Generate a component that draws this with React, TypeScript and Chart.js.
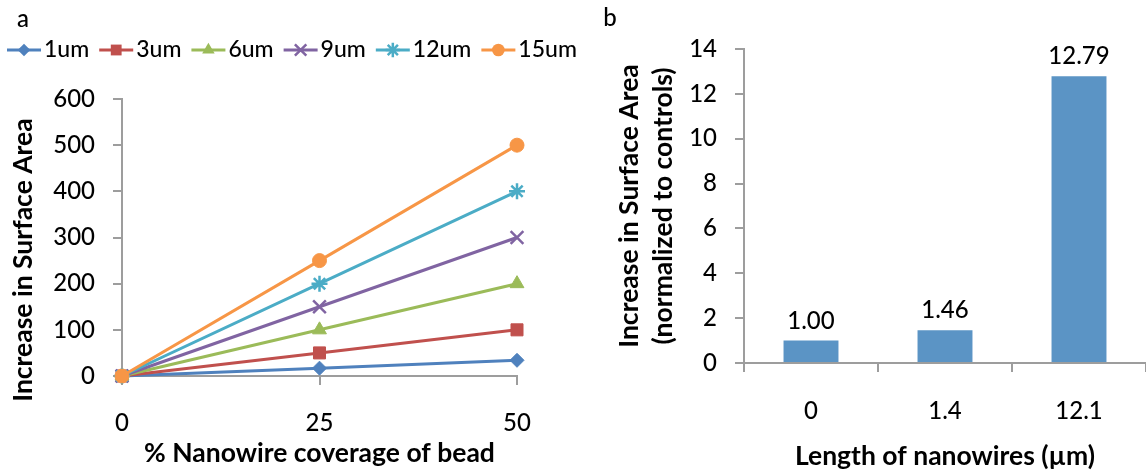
import React, { useEffect, useRef } from 'react';
import { Chart, registerables } from 'chart.js';

Chart.register(...registerables);

// ---------- data ----------
const coverageLabels = ['0', '25', '50'];
const series1um = [0, 17, 34];
const series3um = [0, 50, 100];
const series6um = [0, 100, 200];
const series9um = [0, 150, 300];
const series12um = [0, 200, 400];
const series15um = [0, 250, 500];
const seriesNames = ['1um', '3um', '6um', '9um', '12um', '15um'];
const seriesValues = [series1um, series3um, series6um, series9um, series12um, series15um];
const seriesColors = ['#4F81BD', '#C0504D', '#9BBB59', '#8064A2', '#4BACC6', '#F79646'];
const seriesMarkers = ['rectRot', 'rect', 'triangle', 'crossRot', 'star', 'circle'];
const seriesMarkerRadius = [7, 8.5, 8, 9, 8, 7];

const yMaxA = 600;
const yStepA = 100;

const nanowireLengths = ['0', '1.4', '12.1'];
const normalizedIncrease = [1.0, 1.46, 12.79];
const yMaxB = 14;
const yStepB = 2;

const xTitleA = '% Nanowire coverage of bead';
const yTitleA = 'Increase in Surface Area';
const xTitleB = 'Length of nanowires (µm)';
const yTitleB = ['Increase in Surface Area', '(normalized to controls)'];

// ---------- style ----------
const FONT = 'Lato, "Open Sans", "DejaVu Sans", sans-serif';
const AXIS_GRAY = '#9D9D9D';
const BAR_BLUE = '#5B94C5';
const TICK_SIZE = 24;
const TICK_WEIGHT = 500;
const LEGEND_SIZE = 23;
const TITLE_SIZE = 26.5;
const SPLIT_X = 600;

function drawMarker(ctx: CanvasRenderingContext2D, style: string, x: number, y: number, r: number, color: string) {
  ctx.save();
  ctx.fillStyle = color;
  ctx.strokeStyle = color;
  ctx.lineWidth = 2.5;
  ctx.beginPath();
  if (style === 'circle') {
    ctx.arc(x, y, r, 0, Math.PI * 2);
    ctx.fill();
  } else if (style === 'rect') {
    const s = r * Math.SQRT1_2;
    ctx.rect(x - s, y - s, 2 * s, 2 * s);
    ctx.fill();
  } else if (style === 'rectRot') {
    ctx.moveTo(x, y - r);
    ctx.lineTo(x + r, y);
    ctx.lineTo(x, y + r);
    ctx.lineTo(x - r, y);
    ctx.closePath();
    ctx.fill();
  } else if (style === 'triangle') {
    let a = 0;
    ctx.moveTo(x + Math.sin(a) * r, y - Math.cos(a) * r);
    a += (2 * Math.PI) / 3;
    ctx.lineTo(x + Math.sin(a) * r, y - Math.cos(a) * r);
    a += (2 * Math.PI) / 3;
    ctx.lineTo(x + Math.sin(a) * r, y - Math.cos(a) * r);
    ctx.closePath();
    ctx.fill();
  } else if (style === 'crossRot' || style === 'star') {
    const d = r * Math.SQRT1_2;
    ctx.moveTo(x - d, y - d);
    ctx.lineTo(x + d, y + d);
    ctx.moveTo(x - d, y + d);
    ctx.lineTo(x + d, y - d);
    if (style === 'star') {
      ctx.moveTo(x, y - r);
      ctx.lineTo(x, y + r);
      ctx.moveTo(x - r, y);
      ctx.lineTo(x + r, y);
    }
    ctx.stroke();
  }
  ctx.restore();
}

const panelLabelPlugin = (text: string, x: number, y: number) => ({
  id: 'panelLabel',
  afterDraw(chart: any) {
    const ctx = chart.ctx as CanvasRenderingContext2D;
    ctx.save();
    ctx.font = `${TICK_WEIGHT} 24px ${FONT}`;
    ctx.fillStyle = '#000';
    ctx.textAlign = 'center';
    ctx.textBaseline = 'middle';
    ctx.fillText(text, x, y);
    ctx.restore();
  },
});

const lineLegendPlugin = {
  id: 'lineLegend',
  afterDraw(chart: any) {
    const ctx = chart.ctx as CanvasRenderingContext2D;
    ctx.save();
    ctx.font = `${TICK_WEIGHT} ${LEGEND_SIZE}px ${FONT}`;
    let x = 7;
    const y = 50;
    seriesNames.forEach((name, i) => {
      ctx.strokeStyle = seriesColors[i];
      ctx.lineWidth = 3;
      ctx.beginPath();
      ctx.moveTo(x, y);
      ctx.lineTo(x + 34, y);
      ctx.stroke();
      drawMarker(ctx, seriesMarkers[i], x + 17, y, seriesMarkerRadius[i] * 0.9, seriesColors[i]);
      ctx.fillStyle = '#000';
      ctx.textAlign = 'left';
      ctx.textBaseline = 'middle';
      ctx.fillText(name, x + 37, y);
      x += 37 + ctx.measureText(name).width + 10;
    });
    ctx.restore();
  },
};

const barValuePlugin = {
  id: 'barValues',
  afterDatasetsDraw(chart: any) {
    const ctx = chart.ctx as CanvasRenderingContext2D;
    const meta = chart.getDatasetMeta(0);
    ctx.save();
    ctx.font = `${TICK_WEIGHT} ${TICK_SIZE}px ${FONT}`;
    ctx.fillStyle = '#000';
    ctx.textAlign = 'center';
    ctx.textBaseline = 'alphabetic';
    meta.data.forEach((bar: any, i: number) => {
      ctx.fillText(normalizedIncrease[i].toFixed(2), bar.x, bar.y - 12);
    });
    ctx.restore();
  },
};

const axisCommon = (tickPadding: number) => ({
  grid: {
    display: true,
    drawOnChartArea: false,
    drawTicks: true,
    tickLength: 9,
    color: AXIS_GRAY,
    lineWidth: 2,
  },
  border: { display: true, color: AXIS_GRAY, width: 2 },
  ticks: {
    color: '#000',
    font: { family: FONT, size: TICK_SIZE, weight: TICK_WEIGHT },
    padding: tickPadding,
    maxRotation: 0,
  },
});

const titleFont = { family: FONT, size: TITLE_SIZE, weight: 'bold' };

function LineChartA() {
  const ref = useRef<HTMLCanvasElement | null>(null);
  useEffect(() => {
    if (!ref.current) return;
    const datasets = seriesNames.map((name, i) => ({
      label: name,
      data: seriesValues[i],
      borderColor: seriesColors[i],
      backgroundColor: seriesColors[i],
      borderWidth: 3,
      pointStyle: seriesMarkers[i],
      pointRadius: seriesMarkerRadius[i],
      pointBorderWidth: seriesMarkers[i] === 'crossRot' || seriesMarkers[i] === 'star' ? 2.5 : 1,
      pointBorderColor: seriesColors[i],
      pointBackgroundColor: seriesColors[i],
      tension: 0,
      clip: false,
      order: seriesNames.length - i,
    }));
    const chart = new Chart(ref.current, {
      type: 'line',
      data: { labels: coverageLabels, datasets },
      options: {
        responsive: false,
        animation: false,
        devicePixelRatio: 1,
        events: [],
        layout: { padding: { top: 99, right: SPLIT_X - 517, left: 0, bottom: 0 } },
        plugins: { legend: { display: false }, tooltip: { enabled: false } },
        scales: {
          x: {
            type: 'category',
            offset: false,
            ...axisCommon(24),
            title: {
              display: true,
              text: xTitleA,
              color: '#000',
              font: titleFont,
              padding: { top: 0, bottom: 3 },
            },
            afterFit: (s: any) => { s.height = 96; },
          },
          y: {
            min: 0,
            max: yMaxA,
            ...axisCommon(18),
            ticks: { ...axisCommon(18).ticks, stepSize: yStepA },
            title: {
              display: true,
              // trailing spaces shift the centred title downward like the reference
              text: yTitleA + '\u00A0\u00A0\u00A0\u00A0\u00A0\u00A0\u00A0',
              color: '#000',
              font: titleFont,
              padding: { top: 8, bottom: 0 },
            },
            afterFit: (s: any) => { s.width = 122; },
          },
        },
      } as any,
      plugins: [lineLegendPlugin, panelLabelPlugin('a', 23, 19)],
    });
    return () => chart.destroy();
  }, []);
  return (
    <canvas
      ref={ref}
      width={SPLIT_X}
      height={472}
      style={{ position: 'absolute', left: 0, top: 0, width: SPLIT_X, height: 472 }}
    />
  );
}

function BarChartB() {
  const ref = useRef<HTMLCanvasElement | null>(null);
  useEffect(() => {
    if (!ref.current) return;
    const chart = new Chart(ref.current, {
      type: 'bar',
      data: {
        labels: nanowireLengths,
        datasets: [
          {
            label: 'Increase in Surface Area',
            data: normalizedIncrease,
            backgroundColor: BAR_BLUE,
            borderWidth: 0,
            barPercentage: 0.41,
            categoryPercentage: 1,
          },
        ],
      },
      options: {
        responsive: false,
        animation: false,
        devicePixelRatio: 1,
        events: [],
        layout: { padding: { top: 49, right: 0, left: 0, bottom: 0 } },
        plugins: { legend: { display: false }, tooltip: { enabled: false } },
        scales: {
          x: {
            type: 'category',
            ...axisCommon(25),
            grid: { ...axisCommon(25).grid, offset: true },
            title: {
              display: true,
              text: xTitleB,
              color: '#000',
              font: titleFont,
              padding: { top: 0, bottom: 0 },
            },
            afterFit: (s: any) => { s.height = 109; },
          },
          y: {
            min: 0,
            max: yMaxB,
            ...axisCommon(18),
            ticks: { ...axisCommon(18).ticks, stepSize: yStepB },
            title: {
              display: true,
              text: yTitleB,
              color: '#000',
              font: { ...titleFont, lineHeight: 1.3 },
              padding: { top: 12, bottom: 0 },
            },
            afterFit: (s: any) => { s.width = 744 - SPLIT_X; },
          },
        },
      } as any,
      plugins: [barValuePlugin, panelLabelPlugin('b', 610 - SPLIT_X, 18)],
    });
    return () => chart.destroy();
  }, []);
  return (
    <canvas
      ref={ref}
      width={1146 - SPLIT_X}
      height={472}
      style={{ position: 'absolute', left: SPLIT_X, top: 0, width: 1146 - SPLIT_X, height: 472 }}
    />
  );
}

export default function App() {
  return (
    <div style={{ position: 'fixed', left: 0, top: 0, width: 1146, height: 472, background: '#fff', overflow: 'hidden' }}>
      <LineChartA />
      <BarChartB />
    </div>
  );
}
